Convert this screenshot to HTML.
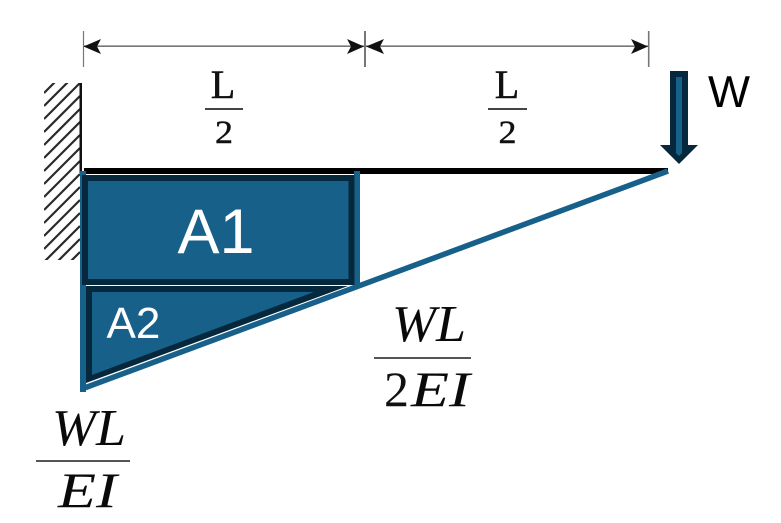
<!DOCTYPE html>
<html>
<head>
<meta charset="utf-8">
<style>
html,body{margin:0;padding:0;background:#fff;width:781px;height:523px;overflow:hidden}
svg{display:block}
.s{font-family:"Liberation Serif",serif;fill:#111;stroke:#111;stroke-width:.45}
.s.i{font-style:italic;stroke-width:0;fill:#0a0a0a}
.a{font-family:"Liberation Sans",sans-serif}
</style>
</head>
<body>
<svg width="781" height="523" viewBox="0 0 781 523" xmlns="http://www.w3.org/2000/svg">
<defs>
<clipPath id="w"><rect x="44" y="83" width="36" height="177"/></clipPath>
</defs>
<!-- hatching -->
<g clip-path="url(#w)" stroke="#2a2a2a" stroke-width="2.2">
<path d="M44 93L80 57M44 106L80 70M44 119L80 83M44 132L80 96M44 145L80 109M44 158L80 122M44 171L80 135M44 184L80 148M44 197L80 161M44 210L80 174M44 223L80 187M44 236L80 200M44 249L80 213M44 262L80 226M44 275L80 239M44 288L80 252M44 301L80 265"/>
</g>
<rect x="79.5" y="83" width="2.5" height="90" fill="#111"/>
<!-- dimension lines -->
<g stroke="#777" fill="none">
<path d="M83.5 31V67" stroke-width="1.2"/>
<path d="M365 31V67" stroke-width="2"/>
<path d="M648.7 31V67" stroke-width="1.6"/>
<path d="M84 46.2H648" stroke-width="1.6"/>
</g>
<g fill="#111">
<path d="M83.5 46.5L101 39L97 46.5L101 54Z"/>
<path d="M364 46.5L347 39L351 46.5L347 54Z"/>
<path d="M366 46.5L384 39L380 46.5L384 54Z"/>
<path d="M648 46.5L631 39L635 46.5L631 54Z"/>
</g>
<!-- L/2 labels -->
<text class="s" x="223" y="98" font-size="40" text-anchor="middle">L</text>
<rect x="205" y="108" width="38" height="2" fill="#444"/>
<text class="s" x="224" y="143" font-size="33" text-anchor="middle" textLength="18" lengthAdjust="spacingAndGlyphs">2</text>
<text class="s" x="507" y="98" font-size="40" text-anchor="middle">L</text>
<rect x="488" y="108" width="39" height="2" fill="#444"/>
<text class="s" x="507.500" y="143" font-size="33" text-anchor="middle" textLength="18" lengthAdjust="spacingAndGlyphs">2</text>
<!-- beam -->
<rect x="84" y="168" width="584" height="6" fill="#000"/>
<!-- load arrow -->
<path d="M670 71H688V145H698L679 164L660 145H670Z" fill="#06283d"/>
<path d="M676 77H682V153L679 156L676 153Z" fill="#17608a"/>
<text class="a" x="708" y="107" font-size="44.500" fill="#000">W</text>
<!-- blue moment outline -->
<rect x="80" y="171" width="6" height="221" fill="#17608a"/>
<rect x="354" y="171" width="6" height="115" fill="#17608a"/>
<path d="M83 388.5L668 171" stroke="#17608a" stroke-width="5.5" fill="none"/>
<!-- A1 -->
<rect x="85" y="178" width="266.500" height="104" fill="#17608a" stroke="#06283d" stroke-width="6"/>
<text class="a" x="177.500" y="253" font-size="63" fill="#fff">A1</text>
<!-- A2 -->
<path d="M86 286H348L86 383Z" fill="#06283d"/>
<path d="M92 292H314L92 375Z" fill="#17608a"/>
<text class="a" x="106.500" y="338" font-size="44" fill="#fff">A2</text>
<!-- WL/2EI -->
<text class="s i" x="392" y="341" font-size="52" textLength="44" lengthAdjust="spacingAndGlyphs">W</text>
<text class="s i" x="436" y="341" font-size="52" textLength="30" lengthAdjust="spacingAndGlyphs">L</text>
<rect x="374" y="357" width="97" height="2" fill="#555"/>
<text class="s" x="384" y="406" font-size="50" style="stroke-width:0">2</text>
<text class="s i" x="411" y="406" font-size="50" textLength="38" lengthAdjust="spacingAndGlyphs">E</text>
<text class="s i" x="449" y="406" font-size="50" textLength="21" lengthAdjust="spacingAndGlyphs">I</text>
<!-- WL/EI -->
<text class="s i" x="52" y="445" font-size="52" textLength="44" lengthAdjust="spacingAndGlyphs">W</text>
<text class="s i" x="96" y="445" font-size="52" textLength="30" lengthAdjust="spacingAndGlyphs">L</text>
<rect x="36" y="460" width="94" height="2" fill="#555"/>
<text class="s i" x="58" y="507" font-size="50" textLength="38" lengthAdjust="spacingAndGlyphs">E</text>
<text class="s i" x="96" y="507" font-size="50" textLength="21" lengthAdjust="spacingAndGlyphs">I</text>
</svg>
</body>
</html>
